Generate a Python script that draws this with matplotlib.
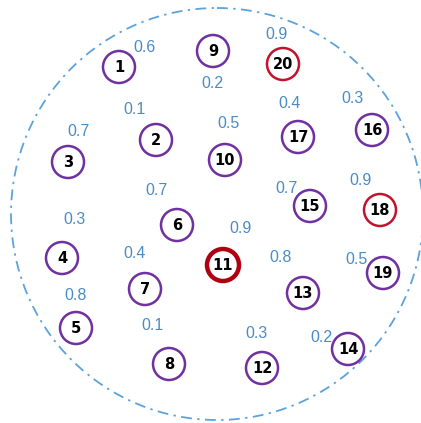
import matplotlib.pyplot as plt
from matplotlib.patches import Circle

# ── DATA ──────────────────────────────────────────────────────────────────────
NODE_IDS = list(range(1, 21))
NODE_X = [119, 156, 68, 62, 76, 177, 145, 169, 213, 225,
          223, 262, 303, 348, 310, 372, 298, 380, 383, 283]
NODE_Y = [67, 140, 162, 258, 328, 225, 289, 364, 51, 160,
          265, 368, 293, 349, 206, 130, 137, 210, 273, 64]
# 0 = normal, 1 = highlighted, 2 = centre node
NODE_KIND = [0, 0, 0, 0, 0, 0, 0, 0, 0, 0,
             2, 0, 0, 0, 0, 0, 0, 1, 0, 1]

LABEL_TEXT = ["0.6", "0.9", "0.2", "0.1", "0.7", "0.5", "0.4", "0.3",
              "0.7", "0.3", "0.9", "0.7", "0.9", "0.4", "0.8", "0.5",
              "0.8", "0.1", "0.3", "0.2"]
LABEL_X = [145, 277, 212, 135, 79, 229, 290, 353,
           157, 74, 240, 287, 360, 135, 281, 357,
           76, 153, 257, 321]
LABEL_Y = [47, 34, 83, 109, 131, 123, 103, 98,
           190, 219, 228, 188, 180, 253, 257, 260,
           296, 326, 334, 337]

RANGE_CENTER = (217, 214)
RANGE_RADIUS = 206

# ── STYLE ─────────────────────────────────────────────────────────────────────
KIND_COLOR = {0: "#7030A0", 1: "#C0142C", 2: "#B00010"}
KIND_LW = {0: 1.8, 1: 1.8, 2: 3.2}
LABEL_COLOR = "#4A8CC8"
NODE_R = 16

W, H = 421, 423
fig = plt.figure(figsize=(W / 100, H / 100), dpi=100)
ax = fig.add_axes([0, 0, 1, 1])
ax.set_xlim(0, W)
ax.set_ylim(H, 0)
ax.set_aspect("equal")
ax.axis("off")

ax.add_patch(Circle(RANGE_CENTER, RANGE_RADIUS, fill=False,
                    edgecolor="#5BA3DC", linewidth=1.3,
                    linestyle=(0, (6, 3, 1.3, 3))))

for nid, x, y, kind in zip(NODE_IDS, NODE_X, NODE_Y, NODE_KIND):
    ax.add_patch(Circle((x, y), NODE_R, facecolor="white",
                        edgecolor=KIND_COLOR[kind], linewidth=KIND_LW[kind], zorder=3))
    ax.text(x, y + 0.5, str(nid), ha="center", va="center", fontsize=10.5,
            fontweight="bold", family="DejaVu Sans", color="black", zorder=4)

for t, x, y in zip(LABEL_TEXT, LABEL_X, LABEL_Y):
    ax.text(x, y, t, ha="center", va="center", fontsize=11.5,
            family="Liberation Sans", color=LABEL_COLOR, zorder=4)

fig.savefig("out.png", dpi=100)
